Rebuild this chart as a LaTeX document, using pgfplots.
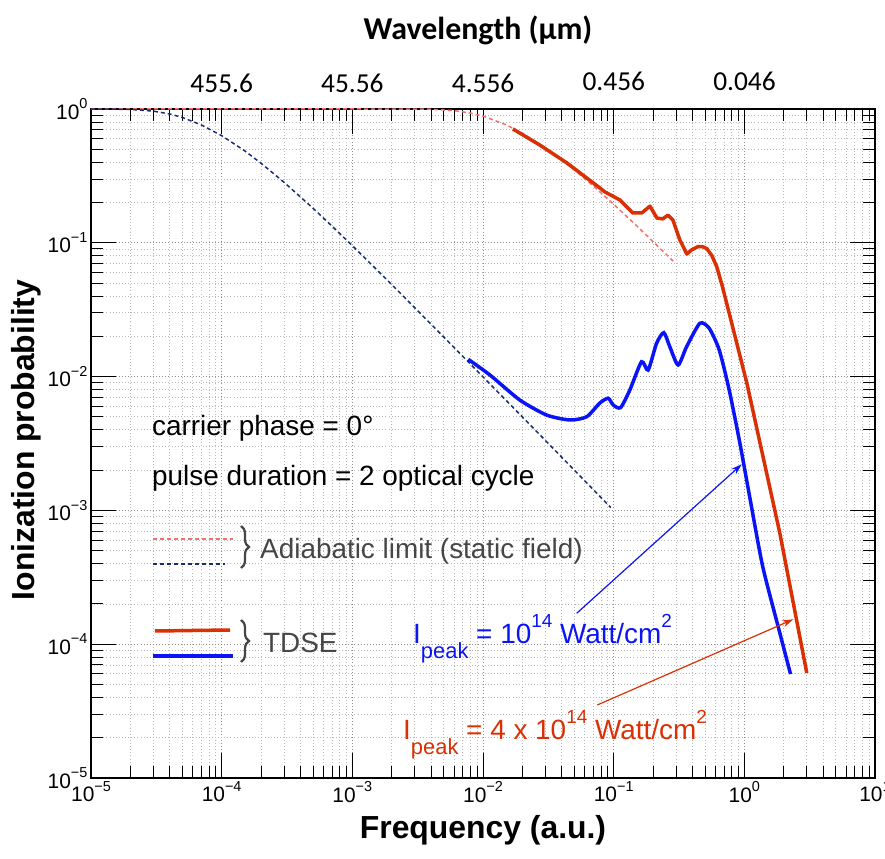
\documentclass[border=0pt]{standalone}
\usepackage{fontspec}
\setmainfont{Liberation Sans}
\newfontfamily\calibri{Carlito}
\usepackage{pgfplots}
\pgfplotsset{compat=1.18}
\usetikzlibrary{decorations.pathreplacing,arrows.meta}
\definecolor{tdsered}{RGB}{218,48,5}
\definecolor{tdseblue}{RGB}{10,20,245}
\definecolor{navyd}{RGB}{25,45,115}
\definecolor{salmon}{RGB}{248,110,110}
\definecolor{labgray}{RGB}{70,70,70}
\newcommand\tl[1]{10\raisebox{0.5em}{\fontsize{14.5}{14.5}\selectfont #1}}
\begin{document}
\begin{tikzpicture}[x=1bp,y=1bp]
\begin{axis}[at={(0,0)},anchor=south west, scale only axis, width=784bp, height=669bp,
  xmode=log, ymode=log, xmin=1e-5, xmax=10, ymin=1e-5, ymax=1,
  xtick={1e-5,1e-4,1e-3,1e-2,1e-1,1,10},
  xticklabels={\tl{−5},\tl{−4},\tl{−3},\tl{−2},\tl{−1},\tl{0},\tl{1}},
  ytick={1e-5,1e-4,1e-3,1e-2,1e-1,1},
  yticklabels={\tl{−5},\tl{−4},\tl{−3},\tl{−2},\tl{−1},\tl{0}},
  tick label style={font=\fontsize{21}{21}\selectfont},
  major tick length=25bp, minor tick length=12bp,
  tick style={black, line width=0.9pt},
  axis line style={line width=1.5pt},
  grid=both,
  major grid style={dash pattern=on 0.9bp off 2.2bp, gray!90, line width=0.8pt},
  minor grid style={dash pattern=on 0.9bp off 2.2bp, gray!55, line width=0.8pt},
  clip=false,
]
% adiabatic limit, 4e14 (salmon dashed)
\addplot[salmon, line width=1.5bp, dash pattern=on 4bp off 3bp] coordinates {
(1e-5,1) (1e-3,1) (3e-3,0.9993) (4e-3,0.9955) (6e-3,0.9727) (8e-3,0.9328)
(0.01,0.8847) (0.015,0.763) (0.02,0.660) (0.03,0.513) (0.05,0.351)
(0.07,0.2655) (0.1,0.194) (0.15,0.134) (0.2,0.102) (0.25,0.0827) (0.285,0.073)};
% adiabatic limit, 1e14 (navy dashed)
\addplot[navyd, line width=1.5bp, dash pattern=on 4bp off 3bp] coordinates {
(1e-5,1) (2e-5,0.9933) (3e-5,0.964) (4e-5,0.918) (5e-5,0.8647) (7e-5,0.760)
(1e-4,0.632) (1.5e-4,0.487) (2e-4,0.3935) (3e-4,0.2835) (5e-4,0.1813)
(7e-4,0.1331) (1e-3,0.0952) (2e-3,0.0488) (5e-3,0.0198) (1e-2,0.00995)
(2e-2,0.005) (5e-2,0.002) (0.095,0.00105)};
% TDSE 4e14 (red)
\addplot[tdsered, line width=3.5bp, line join=round] coordinates {
(0.01694,0.709) (0.0272,0.538) (0.0439,0.395) (0.0581,0.321) (0.0784,0.257)
(0.0857,0.240) (0.1115,0.209) (0.140,0.167) (0.164,0.167) (0.1896,0.188)
(0.2144,0.153) (0.238,0.151) (0.260,0.161) (0.284,0.148) (0.321,0.105)
(0.363,0.0824) (0.395,0.0885) (0.441,0.0935) (0.48,0.0935) (0.516,0.0905)
(0.565,0.080) (0.616,0.0659) (0.68,0.047) (0.7545,0.0315)
(1.045,0.00896) (1.868,0.000678) (3.006,0.0000609)};
% TDSE 1e14 (blue)
\addplot[tdseblue, line width=3.5bp, smooth, tension=0.4] coordinates {
(0.00771,0.01346) (0.0113,0.01028) (0.0191,0.00669) (0.0307,0.00516)
(0.0462,0.00474) (0.0621,0.00501) (0.0784,0.00635) (0.0908,0.00689)
(0.0991,0.00614) (0.1129,0.00586) (0.133,0.00794) (0.1634,0.01292)
(0.1836,0.0112) (0.213,0.01774) (0.242,0.02129) (0.269,0.0167)
(0.3114,0.01221) (0.3612,0.0167) (0.4566,0.02503) (0.5385,0.02296)
(0.6426,0.0158) (0.766,0.00794) (0.924,0.00319) (1.121,0.001135)
(1.385,0.0003776) (1.869,0.0001213) (2.257,0.0000598)};
\end{axis}
% axis titles
\node[anchor=base, font=\bfseries\fontsize{32}{32}\selectfont] at (392,-60) {Frequency (a.u.)};
\node[anchor=base, rotate=90, font=\bfseries\fontsize{32}{32}\selectfont] at (-56,338) {Ionization probability};
\node[anchor=base, font=\calibri\bfseries\fontsize{32}{32}\selectfont] at (387,738) {Wavelength (µm)};
% top wavelength tick labels
\begin{scope}[every node/.style={anchor=base, font=\calibri\fontsize{27.5}{27.5}\selectfont}]
\node at (130.7,685) {455.6};
\node at (261.4,685) {45.56};
\node at (392.1,685) {4.556};
\node at (522.8,687) {0.456};
\node at (653.5,687) {0.046};
\end{scope}
% annotations
\begin{scope}[every node/.style={anchor=base west, font=\fontsize{28}{28}\selectfont, inner sep=0pt}]
\node at (61,342) {carrier phase = 0°};
\node at (61,292) {pulse duration = 2 optical cycle};
\node[text=labgray] at (169,219) {Adiabatic limit (static field)};
\node[text=labgray] at (172,125) {TDSE};
\node[text=tdseblue] at (322,134) {I\raisebox{-15bp}{\fontsize{22}{22}\selectfont peak} = 10\raisebox{16bp}{\fontsize{19}{19}\selectfont 14} Watt/cm\raisebox{16bp}{\fontsize{19}{19}\selectfont 2}};
\node[text=tdsered] at (312,38) {I\raisebox{-15bp}{\fontsize{22}{22}\selectfont peak} = 4 x 10\raisebox{16bp}{\fontsize{19}{19}\selectfont 14} Watt/cm\raisebox{16bp}{\fontsize{19}{19}\selectfont 2}};
\end{scope}
% legend samples
\draw[salmon, line width=1.5bp, dash pattern=on 4bp off 3bp] (62,239) -- (142,239);
\draw[navyd, line width=1.5bp, dash pattern=on 4bp off 3bp] (62,214) -- (134,214);
\draw[tdsered, line width=3.5bp] (64,147) -- (139,148);
\draw[tdseblue, line width=3.5bp] (62,122) -- (142,122);
\draw[labgray, line width=2.2bp, decorate, decoration={brace, amplitude=8bp}] (150,252) -- (150,210);
\draw[labgray, line width=2.2bp, decorate, decoration={brace, amplitude=8bp}] (150,158) -- (150,116);
% arrows
\draw[tdseblue, line width=1.2bp, -{Stealth[length=11bp,width=7bp]}] (485.7,164.7) -- (650.7,313.7);
\draw[tdsered, line width=1.2bp, -{Stealth[length=11bp,width=7bp]}] (506.3,73) -- (702.3,158.7);
\pgfresetboundingbox
\path[use as bounding box] (-91,-81) rectangle (794,778);
\end{tikzpicture}
\end{document}
